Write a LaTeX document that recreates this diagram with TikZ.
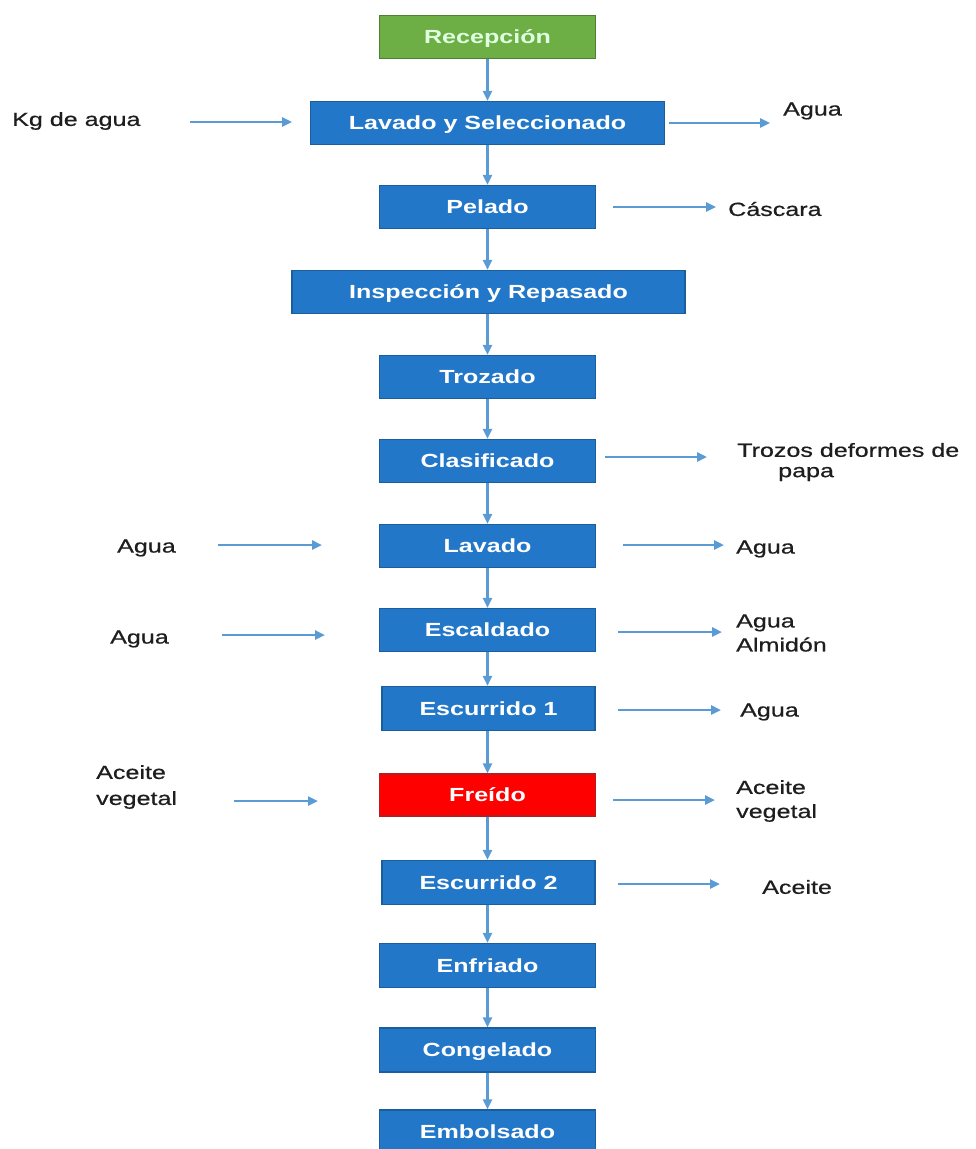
\documentclass[tikz,border=0pt]{standalone}
\usepackage{fontspec}
\setmainfont{Liberation Sans}[FakeStretch=1.32]
\newfontfamily\labfont{Liberation Sans}[FakeStretch=1.32, FakeBold=0.6]
\usetikzlibrary{arrows.meta}
\definecolor{boxblue}{HTML}{2377C9}
\definecolor{boxedge}{HTML}{1B5E9E}
\definecolor{boxgreen}{HTML}{6DAE45}
\definecolor{greenedge}{HTML}{4F7F30}
\definecolor{boxred}{HTML}{FF0000}
\definecolor{rededge}{HTML}{B02020}
\definecolor{arrblue}{HTML}{5B9BD5}
\definecolor{labtext}{HTML}{1E1E1E}
\tikzset{
  proc/.style={draw=boxedge, fill=boxblue, line width=1.3pt, text=white,
    font=\bfseries\fontsize{19}{22}\selectfont, minimum height=43pt,
    text height=13.8pt, text depth=0pt,
    inner sep=0pt, minimum width=216pt},
  greenproc/.style={proc, draw=greenedge, fill=boxgreen, text=white!88!green},
  redproc/.style={proc, draw=rededge, fill=boxred},
  arr/.style={draw=arrblue, line width=2.4pt, -{Triangle[length=10pt,width=9pt]}},
  lab/.style={anchor=west, inner sep=0pt, text=labtext, yshift=-3pt,
    font=\labfont\fontsize{19}{25}\selectfont, align=left}
}
\begin{document}
\begin{tikzpicture}[x=1pt,y=-1pt]
\useasboundingbox (0,0) rectangle (976,1149);
\clip (0,0) rectangle (976,1149);
% process boxes
\node[greenproc] (rec) at (487.5,37) {Recepción};
\node[proc, minimum width=354pt] (lys) at (487.5,123) {Lavado y Seleccionado};
\node[proc] (pel) at (487.5,207) {Pelado};
\node[proc, minimum width=393pt] (ins) at (488.5,292) {Inspección y Repasado};
\node[proc] (tro) at (487.5,377) {Trozado};
\node[proc] (cla) at (487.5,461) {Clasificado};
\node[proc] (lav) at (487.5,546) {Lavado};
\node[proc] (esc) at (487.5,630) {Escaldado};
\node[proc, minimum width=213pt, minimum height=44pt] (es1) at (488.5,708.5) {Escurrido 1};
\node[redproc, minimum height=42pt] (fre) at (487.5,795) {Freído};
\node[proc, minimum width=213pt, minimum height=44pt] (es2) at (488.5,882.5) {Escurrido 2};
\node[proc, minimum height=44pt] (enf) at (487.5,965.5) {Enfriado};
\node[proc, minimum height=44pt] (con) at (487.5,1050) {Congelado};
\node[proc, minimum height=44pt] (emb) at (487.5,1132) {Embolsado};
% main flow
\foreach \a/\b in {rec/lys,lys/pel,pel/ins,ins/tro,tro/cla,cla/lav,lav/esc,esc/es1,es1/fre,fre/es2,es2/enf,enf/con,con/emb}
  \draw[arr] (\a.south -| 487.5,0) -- (\b.north -| 487.5,0);
% side labels
\node[lab] (kg) at (12,118) {Kg de agua};
\node[lab] (ag1) at (783,108) {Agua};
\node[lab] (cas) at (728,206) {Cáscara};
\node[lab] (trz) at (737,447) {Trozos deformes de};
\node[lab] (pap) at (778,471) {papa};
\node[lab] (ag2) at (117,545) {Agua};
\node[lab] (ag3) at (736,546) {Agua};
\node[lab] (ag4) at (110,636) {Agua};
\node[lab, font=\labfont\fontsize{19}{24}\selectfont] (ag5) at (736,630) {Agua\\Almidón};
\node[lab] (ag6) at (740,709) {Agua};
\node[lab, font=\labfont\fontsize{19}{26}\selectfont] (ac1) at (96,784) {Aceite\\vegetal};
\node[lab, font=\labfont\fontsize{19}{24}\selectfont] (ac2) at (736,798) {Aceite\\vegetal};
\node[lab] (ac3) at (762,884) {Aceite};
% side arrow end points
\coordinate (kgS) at (190,122);  \coordinate (kgE) at (292,122);
\coordinate (a1S) at (669,123);  \coordinate (a1E) at (770,123);
\coordinate (caS) at (613,207);  \coordinate (caE) at (716,207);
\coordinate (trS) at (605,457);  \coordinate (trE) at (707,457);
\coordinate (a2S) at (218,545);  \coordinate (a2E) at (322,545);
\coordinate (a3S) at (623,545);  \coordinate (a3E) at (724,545);
\coordinate (a4S) at (222,635);  \coordinate (a4E) at (325,635);
\coordinate (a5S) at (618,632);  \coordinate (a5E) at (722,632);
\coordinate (a6S) at (618,710);  \coordinate (a6E) at (721,710);
\coordinate (c1S) at (234,801);  \coordinate (c1E) at (318,801);
\coordinate (c2S) at (613,800);  \coordinate (c2E) at (715,800);
\coordinate (c3S) at (618,884);  \coordinate (c3E) at (720,884);
\foreach \s in {kg,a1,ca,tr,a2,a3,a4,a5,a6,c1,c2,c3}
  \draw[arr] (\s S) -- (\s E);
\end{tikzpicture}
\end{document}
